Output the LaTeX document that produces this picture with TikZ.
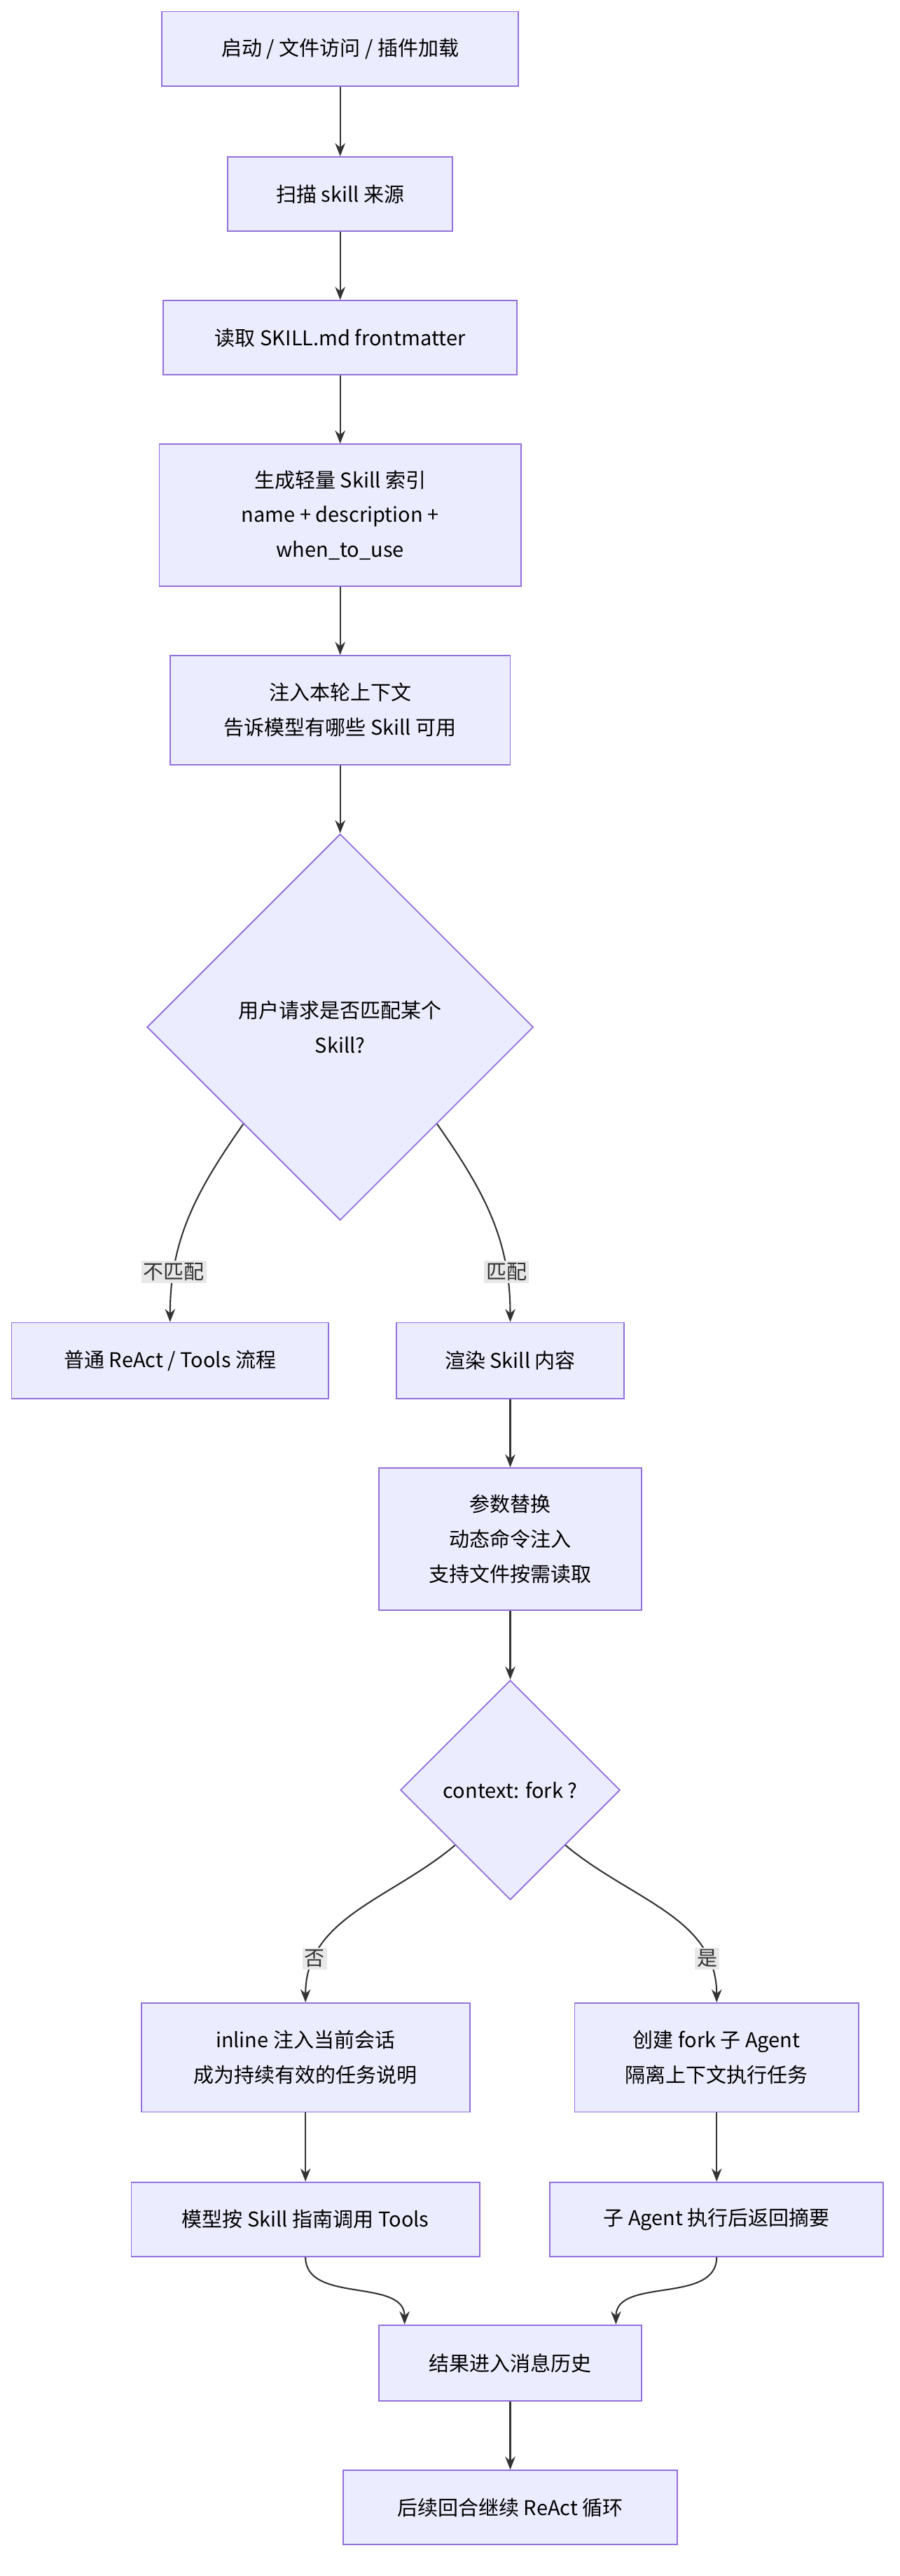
\documentclass[tikz,border=0pt]{standalone}
\usepackage{fontspec}
\setmainfont{Noto Sans CJK SC}
\usetikzlibrary{shapes.geometric,arrows.meta}
\definecolor{boxfill}{HTML}{ECECFF}
\definecolor{boxline}{HTML}{9370DB}
\definecolor{edgeline}{HTML}{333333}
\definecolor{lblfill}{HTML}{E8E8E8}
\tikzset{
  box/.style={draw=boxline, fill=boxfill, line width=0.9pt, rectangle, align=center,
    inner sep=0pt, font=\fontsize{14}{24}\selectfont},
  dia/.style={draw=boxline, fill=boxfill, line width=0.9pt, diamond, aspect=1, align=center,
    inner sep=0pt, font=\fontsize{14}{24}\selectfont},
  flow/.style={draw=edgeline, line width=1pt, -{Stealth[length=9pt,width=7pt]}},
  lbl/.style={fill=lblfill, inner sep=1.5pt, font=\fontsize{14}{16}\selectfont, text=edgeline}
}
\begin{document}
\begin{tikzpicture}[x=0.04cm, y=-0.04cm]
  \useasboundingbox (0,0) rectangle (545,1560);

  \node[box, minimum width=216*0.04cm, minimum height=45*0.04cm] (start) at (206,29.5) {启动 / 文件访问 / 插件加载};
  \node[box, minimum width=136*0.04cm, minimum height=45*0.04cm] (scan) at (206,117.5) {扫描 skill 来源};
  \node[box, minimum width=214*0.04cm, minimum height=45*0.04cm] (read) at (206,204.5) {读取 SKILL.md frontmatter};
  \node[box, minimum width=219*0.04cm, minimum height=86*0.04cm] (index) at (206,312) {生成轻量 Skill 索引\\name + description +\\when\_to\_use};
  \node[box, minimum width=206*0.04cm, minimum height=66*0.04cm] (inject) at (206,430) {注入本轮上下文\\告诉模型有哪些 Skill 可用};
  \node[dia, minimum width=234*0.04cm, minimum height=234*0.04cm] (match) at (206,622) {用户请求是否匹配某个\\Skill?};
  \node[box, minimum width=192*0.04cm, minimum height=46*0.04cm] (plain) at (103,824) {普通 ReAct / Tools 流程};
  \node[box, minimum width=138*0.04cm, minimum height=46*0.04cm] (render) at (309,824) {渲染 Skill 内容};
  \node[box, minimum width=159*0.04cm, minimum height=86*0.04cm] (param) at (309,932) {参数替换\\动态命令注入\\支持文件按需读取};
  \node[dia, minimum width=133*0.04cm, minimum height=133*0.04cm] (fork) at (309,1084) {context: fork ?};
  \node[box, minimum width=199*0.04cm, minimum height=66*0.04cm] (inline) at (185,1246) {inline 注入当前会话\\成为持续有效的任务说明};
  \node[box, minimum width=172*0.04cm, minimum height=66*0.04cm] (agent) at (434,1246) {创建 fork 子 Agent\\隔离上下文执行任务};
  \node[box, minimum width=211*0.04cm, minimum height=45*0.04cm] (call) at (185,1344) {模型按 Skill 指南调用 Tools};
  \node[box, minimum width=202*0.04cm, minimum height=45*0.04cm] (summ) at (434,1344) {子 Agent 执行后返回摘要};
  \node[box, minimum width=159*0.04cm, minimum height=46*0.04cm] (hist) at (309,1431) {结果进入消息历史};
  \node[box, minimum width=202*0.04cm, minimum height=45*0.04cm] (loop) at (309,1518.5) {后续回合继续 ReAct 循环};

  \draw[flow] (start) -- (scan);
  \draw[flow] (scan) -- (read);
  \draw[flow] (read) -- (index);
  \draw[flow] (index) -- (inject);
  \draw[flow] (inject) -- (match);
  \draw[flow] (match.south west) to[out=-125, in=90] node[lbl, pos=0.78] {不匹配} (plain.north);
  \draw[flow] (match.south east) to[out=-55, in=90] node[lbl, pos=0.78] {匹配} (render.north);
  \draw[flow] (render) -- (param);
  \draw[flow] (param) -- (fork);
  \draw[flow] (fork.south west) to[out=-140, in=90] node[lbl, pos=0.8] {否} (inline.north);
  \draw[flow] (fork.south east) to[out=-40, in=90] node[lbl, pos=0.8] {是} (agent.north);
  \draw[flow] (inline) -- (call);
  \draw[flow] (agent) -- (summ);
  \draw[flow] (call.south) to[out=-90, in=90] ([xshift=-64*0.04cm]hist.north);
  \draw[flow] (summ.south) to[out=-90, in=90] ([xshift=64*0.04cm]hist.north);
  \draw[flow] (hist) -- (loop);
\end{tikzpicture}
\end{document}
